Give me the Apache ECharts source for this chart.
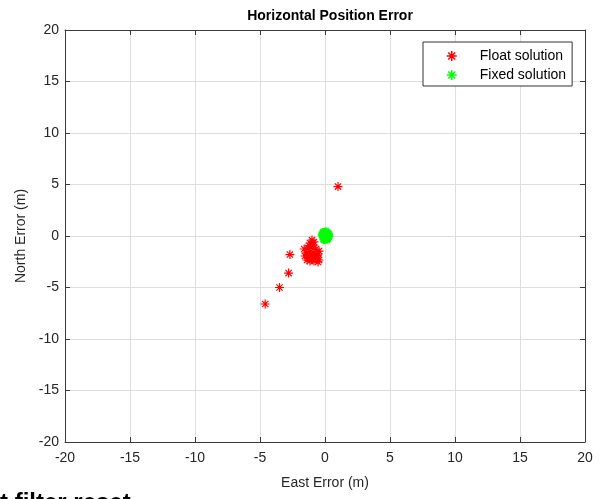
<!DOCTYPE html>
<html><head><meta charset="utf-8">
<script src="https://cdn.jsdelivr.net/npm/echarts@6/dist/echarts.min.js"></script>
<style>html,body{margin:0;padding:0;background:#fff}#c{width:601px;height:499px}</style>
</head><body><div id="c"></div>
<script>
const title = 'Horizontal Position Error';
const xName = 'East Error (m)';
const yName = 'North Error (m)';
const ticks = [-20,-15,-10,-5,0,5,10,15,20];
const floatEast  = [1.0,-4.6,-3.5,-2.8,-2.7,-1.0,-1.15,-0.85,-1.6,-1.3,-1.0,-0.7,-0.46,-1.45,-1.15,-0.85,-0.54,-1.54,-1.3,-1.0,-0.7,-0.46,-1.15,-0.85,-0.54,-1.38,-1.2,-0.9,-0.6,-1.1];
const floatNorth = [4.8,-6.6,-5.0,-3.6,-1.8,-0.39,-0.68,-0.58,-1.26,-1.17,-1.07,-1.26,-1.46,-1.65,-1.55,-1.65,-1.75,-1.94,-2.14,-2.04,-2.14,-2.33,-2.43,-2.43,-2.52,-2.33,-0.95,-0.9,-1.9,-1.85];
const fixedEast  = [0.0,0.2,-0.15,0.1,0.25,-0.1,0.15,0.05,0.2,-0.05,0.1,0.0];
const fixedNorth = [0.0,0.15,0.1,-0.2,0.0,0.3,-0.25,0.35,0.2,-0.3,0.05,-0.1];
const seriesNames = ['Float solution','Fixed solution'];

const star = 'path://M0,-5L0,5M-5,0L5,0M-3.5,-3.5L3.5,3.5M-3.5,3.5L3.5,-3.5';
const pts = (a,b)=>a.map((v,i)=>[v,b[i]]);
const axColor = '#3a3a3a';
const font = 'Liberation Sans, Arial, sans-serif';
const xBase = {type:'value',min:-20,max:20,interval:5,axisLine:{onZero:false,lineStyle:{color:axColor,width:1}},
  axisTick:{inside:true,length:5,lineStyle:{color:axColor}},splitLine:{show:false}};
const chart = echarts.init(document.getElementById('c'));
chart.setOption({
  animation:false,
  title:{text:title,left:325,textAlign:'center',top:4,textStyle:{fontFamily:font,fontSize:14,fontWeight:'bold',color:'#000'}},
  grid:{left:65,right:16,top:30,bottom:57},
  legend:{orient:'vertical',left:423,top:42,padding:[7,6,4,23],itemGap:5,
    itemWidth:10,itemHeight:10,borderColor:'#333',borderWidth:1,backgroundColor:'#fff',
    textStyle:{fontFamily:font,fontSize:14,color:'#000',padding:[0,0,0,18]},
    data:[{name:seriesNames[0],icon:star,itemStyle:{color:'#ff0000',borderColor:'#ff0000',borderWidth:1.5}},
          {name:seriesNames[1],icon:star,itemStyle:{color:'#00ff00',borderColor:'#00ff00',borderWidth:1.5}}]},
  xAxis:[
    Object.assign({},xBase,{position:'bottom',name:xName,nameLocation:'middle',nameGap:34,
      nameTextStyle:{fontFamily:font,fontSize:14,color:'#262626'},
      axisLabel:{fontFamily:font,fontSize:14,color:'#262626',margin:9},
      splitLine:{show:true,lineStyle:{color:'#dedede',width:1}}}),
    Object.assign({},xBase,{position:'top',axisLabel:{show:false}})
  ],
  yAxis:[
    Object.assign({},xBase,{position:'left',name:yName,nameLocation:'middle',nameGap:35,
      nameTextStyle:{fontFamily:font,fontSize:14,color:'#262626'},
      axisLabel:{fontFamily:font,fontSize:14,color:'#262626',margin:6},
      splitLine:{show:true,lineStyle:{color:'#dedede',width:1}}}),
    Object.assign({},xBase,{position:'right',axisLabel:{show:false}})
  ],
  series:[
    {name:seriesNames[0],type:'scatter',data:pts(floatEast,floatNorth),symbol:star,symbolSize:9,
      itemStyle:{color:'#ff0000',borderColor:'#ff0000',borderWidth:1.2,opacity:1}},
    {name:seriesNames[1],type:'scatter',data:pts(fixedEast,fixedNorth),symbol:star,symbolSize:10,
      itemStyle:{color:'#00ff00',borderColor:'#00ff00',borderWidth:3,opacity:1}}
  ],
  graphic:[{type:'text',left:0,top:491,style:{text:'t filter reset',font:'bold 24px Liberation Sans, Arial, sans-serif',fill:'#000'}}]
});
</script></body></html>
